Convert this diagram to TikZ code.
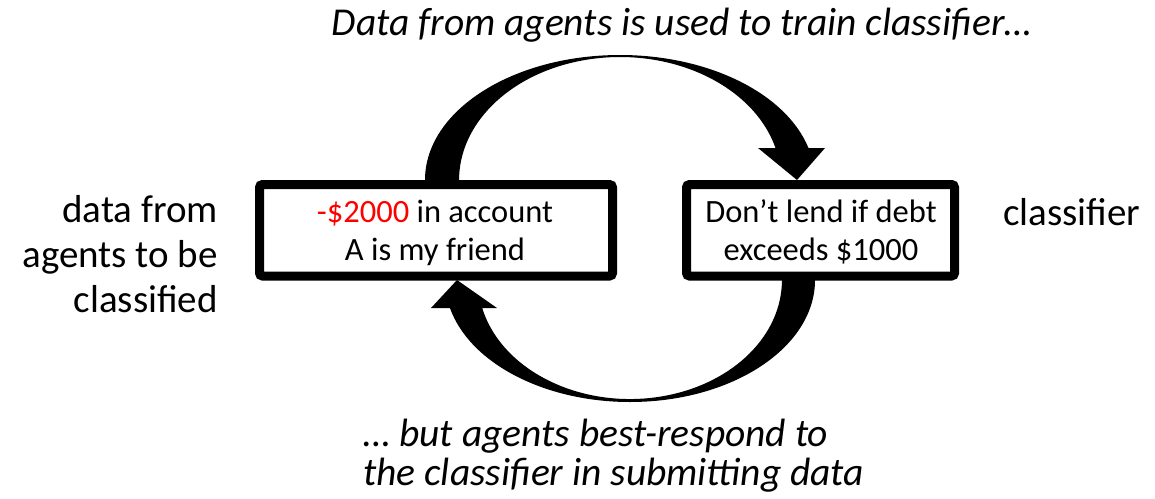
\documentclass[tikz,border=0pt]{standalone}
\usepackage{fontspec}
\setmainfont{Carlito}
\begin{document}
\begin{tikzpicture}[x=1pt,y=-1pt,
  panel/.style={draw=black,line width=9pt,rounded corners=3pt,fill=white},
  sidelabel/.style={inner sep=0pt,font=\fontsize{39}{45}\selectfont},
  boxtext/.style={inner sep=0pt,anchor=base,font=\fontsize{32.5}{38}\selectfont},
  caption/.style={inner sep=0pt,font=\fontsize{39.5}{39}\selectfont\itshape},
  bigarrow/.style={fill=black,draw=none}]
\useasboundingbox (0,0) rectangle (1155,498);

% upper curved arrow: left panel -> right panel
\fill[bigarrow] (425,180) arc[start angle=180,end angle=345.2,x radius=195,y radius=125]
  -- (825,148) -- (797,180) -- (758,148)
  -- (775.5,148) arc[start angle=344.9,end angle=180,x radius=161,y radius=123] -- cycle;

% lower curved arrow: right panel -> left panel
\fill[bigarrow] (815,280) arc[start angle=0,end angle=166.7,x radius=185,y radius=122]
  -- (431,308) -- (457,280) -- (497,308)
  -- (482.2,308) arc[start angle=166.4,end angle=0,x radius=152,y radius=119] -- cycle;

% panels
\draw[panel] (259.5,184.5) rectangle (612.5,276);
\draw[panel] (686.5,184.5) rectangle (954.5,276);

\node[boxtext] (d1) at (435,222) {\textcolor{red}{-\$2000} in account};
\node[boxtext] (d2) at (435,260) {A is my friend};
\node[boxtext] (c1) at (821,222) {Don’t lend if debt};
\node[boxtext] (c2) at (821,260) {exceeds \$1000};

% side labels
\node[sidelabel,anchor=base east] (l1) at (218,222) {data from};
\node[sidelabel,anchor=base east] (l2) at (218,267) {agents to be};
\node[sidelabel,anchor=base east] (l3) at (218,312) {classified};
\node[sidelabel,anchor=base west] (r1) at (1003,225) {classifier};

% captions
\node[caption,anchor=base] (top) at (682,35) {Data from agents is used to train classifier…};
\node[caption,anchor=base west] (b1) at (363,446) {… but agents best-respond to};
\node[caption,anchor=base west] (b2) at (363,485) {the classifier in submitting data};
\end{tikzpicture}
\end{document}
